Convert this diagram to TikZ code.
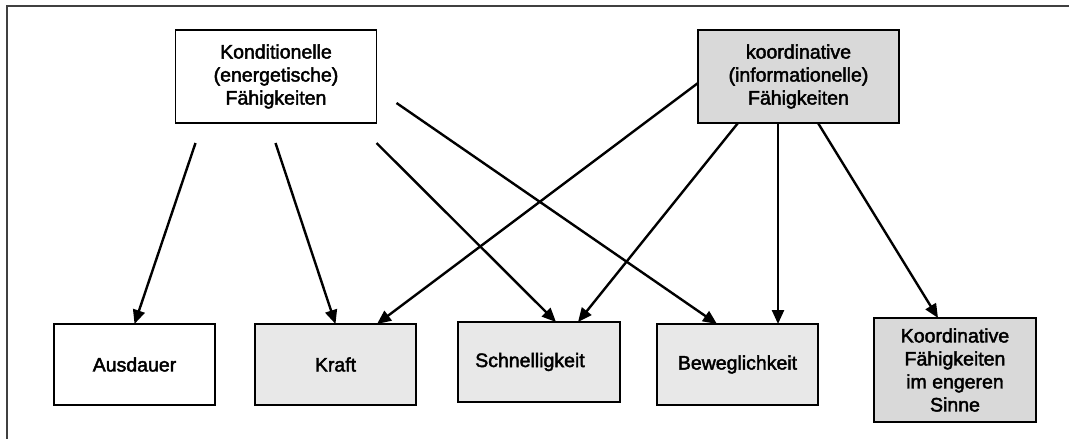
\documentclass[tikz,border=0pt]{standalone}
\usepackage{fontspec}
\setmainfont{Liberation Sans}
\newfontfamily\boxfont{Liberation Sans}[FakeBold=2.2]
\usetikzlibrary{arrows.meta,calc}
\definecolor{midgray}{HTML}{D9D9D9}
\definecolor{lightgray}{HTML}{E8E8E8}
\definecolor{framegray}{HTML}{404040}
\begin{document}
\begin{tikzpicture}[x=1pt,y=-1pt,
  box/.style={draw=black, line width=1.6pt, inner sep=0pt, outer sep=0pt,
    align=center, font=\boxfont\fontsize{19.5}{23}\selectfont},
  topbox/.style={box, minimum width=201pt, minimum height=93pt},
  lowbox/.style={box, minimum width=161pt, minimum height=81pt},
  conn/.style={line width=2.4pt, -{Triangle[length=14pt,width=12pt]}}]
\useasboundingbox (0,0) rectangle (1069,439);

% open frame: top and left edges only
\draw[framegray, line width=2pt] (7,439) -- (7,6) -- (1069,6);

% the two groups of abilities
\node[topbox, fill=white] (kond) at (276,76.5)
  {Konditionelle\\(energetische)\\Fähigkeiten};
\node[topbox, fill=midgray] (koord) at (798.5,76.5)
  {koordinative\\(informationelle)\\Fähigkeiten};

% the individual abilities
\node[lowbox, fill=white] (ausdauer) at (134.5,364.5) {Ausdauer};
\node[lowbox, fill=lightgray] (kraft) at (335.5,364.5) {Kraft};
\node[lowbox, fill=lightgray, minimum width=162pt, minimum height=80pt]
  (schnell) at (539,362) {Schnelligkeit\hspace*{18pt}};
\node[lowbox, fill=lightgray] (beweg) at (737.5,364.5) {Beweglichkeit};
\node[lowbox, fill=midgray, minimum width=162pt, minimum height=104pt]
  (kfies) at (955,370) {Koordinative\\Fähigkeiten\\im engeren\\Sinne};

% free start points below the left group
\coordinate (k1) at ($(kond.south west)+(20,20)$);
\coordinate (k2) at ($(kond.south west)+(100,20)$);
\coordinate (k3) at ($(kond.south west)+(201,20)$);
\coordinate (k4) at ($(kond.north east)+(20,73)$);

% connectors from the conditional abilities
\draw[conn] (k1) -- (ausdauer.north);
\draw[conn] (k2) -- (kraft.north);
\draw[conn] (k3) -- ($(schnell.north west)+(98,0)$);
\draw[conn] (k4) -- ($(beweg.north west)+(60,0)$);

% connectors from the coordinative abilities
\draw[conn] ($(koord.west)+(0,6.5)$) -- ($(kraft.north west)+(122,0)$);
\draw[conn] ($(koord.south west)+(40,0)$) -- ($(schnell.north west)+(120,0)$);
\draw[conn] ($(koord.south west)+(80,0)$) -- ($(beweg.north west)+(121,0)$);
\draw[conn] ($(koord.south west)+(120,0)$) -- ($(kfies.north west)+(64,0)$);
\end{tikzpicture}
\end{document}
